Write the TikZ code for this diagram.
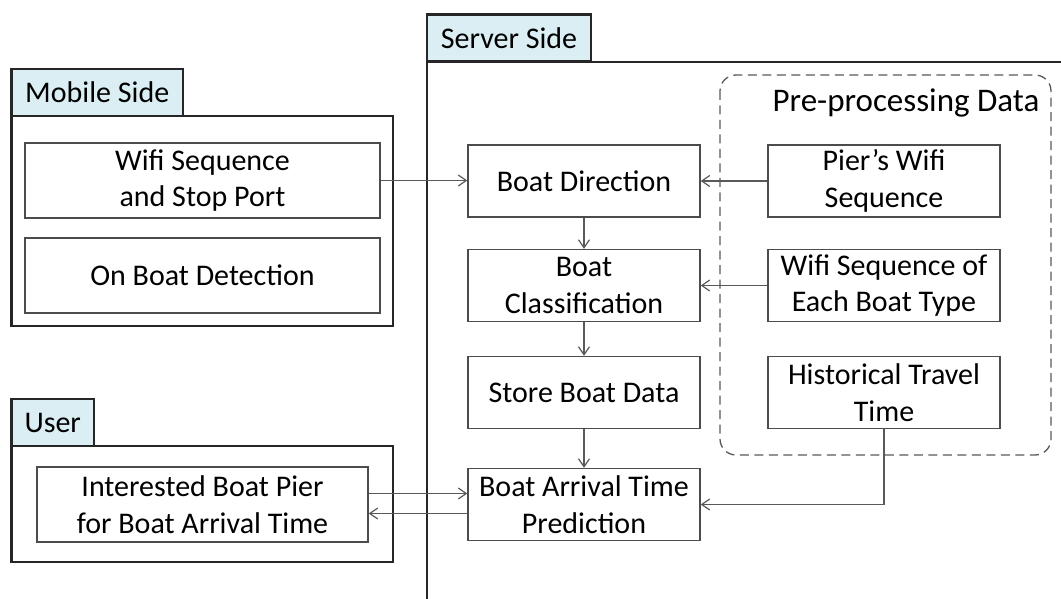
\documentclass[tikz,border=0pt]{standalone}
\usepackage{fontspec}
\setmainfont{Carlito}
\usetikzlibrary{arrows.meta}
\tikzset{>={Straight Barb[length=8pt,width=11pt]}}
\definecolor{tabblue}{HTML}{DAEEF3}
\tikzset{txt/.style = {font=\fontsize{30}{36.6}\selectfont, text=black}}
\tikzset{block/.style = {txt, draw=black!70, line width=1.4pt, fill=white, minimum width=232pt, minimum height=72pt, align=center, inner sep=0pt}}
\tikzset{frame/.style = {draw=black!85, line width=2.2pt, inner sep=0pt}}
\tikzset{tab/.style = {frame, txt, fill=tabblue, minimum height=47pt}}
\tikzset{edge/.style = {->, draw=black!65, line width=1.2pt}}

\begin{document}
\begin{tikzpicture}[x=1pt, y=-1pt]
            \useasboundingbox (0,0) rectangle (1061,599);

            % Frames
            \node[frame, minimum width=381.5pt, minimum height=210pt] (mobile) at (202.25,221) {};
            \node[tab, minimum width=171.5pt] (mobiletab) at (97.25,92.5) {Mobile Side};
            \node[frame, minimum width=381.5pt, minimum height=116pt] (userframe) at (202.25,504) {};
            \node[tab, minimum width=82.5pt] (usertab) at (52.75,422.5) {User};
            \draw[frame] (1061,62) -- (427,62) -- (427,599);
            \node[tab, minimum width=164pt] (servertab) at (509,38) {Server Side};
            \draw[draw=black!65, line width=1.3pt, dash pattern=on 9pt off 5.5pt, rounded corners=16pt] (720,75) rectangle (1051,455);
            \node[txt, font=\fontsize{33}{40}\selectfont] (prep) at (906,103) {Pre-processing Data};

            % Vertices
            \node[block, minimum width=355pt, minimum height=75pt] (wifi) at (202.5,180.5) {Wifi Sequence\\and Stop Port};
            \node[block, minimum width=355pt, minimum height=75pt] (onboat) at (202.5,275.5) {On Boat Detection};
            \node[block, minimum width=331pt, minimum height=75pt] (user) at (202.5,504.5) {Interested Boat Pier\\for Boat Arrival Time};
            \node[block] (dir) at (584,181) {Boat Direction};
            \node[block] (cls) at (584,285.5) {Boat\\Classification};
            \node[block] (store) at (584,392.5) {Store Boat Data};
            \node[block] (pred) at (584,504.5) {Boat Arrival Time\\Prediction};
            \node[block] (pier) at (884,181) {Pier’s Wifi\\Sequence};
            \node[block] (btype) at (884,285.5) {Wifi Sequence of\\Each Boat Type};
            \node[block] (hist) at (884,392.5) {Historical Travel\\Time};

            % Edges
            \draw[edge] (wifi.east) -- (wifi.east -| dir.west);
            \draw[edge] (pier) -- (dir);
            \draw[edge] (dir) -- (cls);
            \draw[edge] (btype) -- (cls);
            \draw[edge] (cls) -- (store);
            \draw[edge] (store) -- (pred);
            \draw[edge] (hist.south) |- (pred.east);
            \draw[edge] ([yshift=11pt]user.east) -- ([yshift=11pt]pred.west);
            \draw[edge] ([yshift=-9pt]pred.west) -- ([yshift=-9pt]user.east);
        \end{tikzpicture}
\end{document}
